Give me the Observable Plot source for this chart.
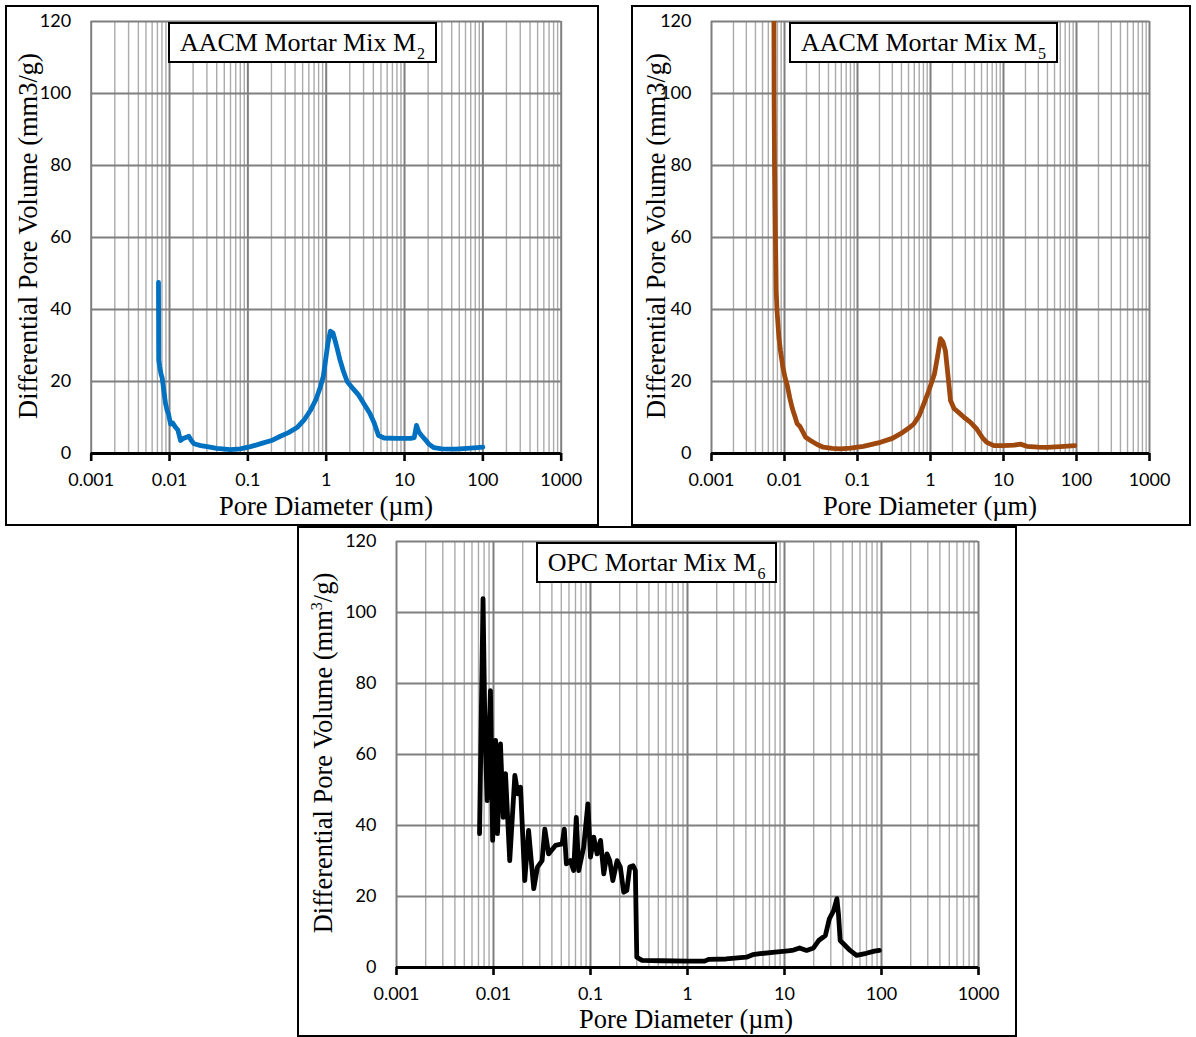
<!DOCTYPE html>
<html>
<head>
<meta charset="utf-8">
<script src="https://cdn.jsdelivr.net/npm/d3@7"></script>
<script src="https://cdn.jsdelivr.net/npm/@observablehq/plot@0.6"></script>
<style>
  html, body { margin: 0; padding: 0; background: #fff; }
  #page { position: relative; width: 1196px; height: 1037px; overflow: hidden; background: #fff; }
  .box { position: absolute; box-sizing: border-box; border: 2px solid #000; }
  .plot { position: absolute; }
  .title { position: absolute; box-sizing: border-box; border: 2.5px solid #000; background: #fff;
           font-family: "Liberation Serif", "Times New Roman", serif; font-size: 26px; color: #000;
           display: flex; align-items: center; justify-content: center; white-space: nowrap; }
  .title .sb { font-size: 16px; position: relative; top: 8px; margin-left: 1px; }
  .atitle { position: absolute; font-family: "Liberation Serif", "Times New Roman", serif; font-size: 26.5px;
            color: #000; white-space: nowrap; transform: translate(-50%, -50%); }
  .atitle.rot { transform: translate(-50%, -50%) rotate(-90deg); }
  .atitle .sp { font-size: 16px; position: relative; top: -10px; }
</style>
</head>
<body>
<div id="page"></div>
<script>
// ---- tick values / labels ----
const xTicks = [0.001, 0.01, 0.1, 1, 10, 100, 1000];
const xTickLabels = ["0.001", "0.01", "0.1", "1", "10", "100", "1000"];
const minorMultipliers = [2, 3, 4, 5, 6, 7, 8, 9];
const yTicks = [0, 20, 40, 60, 80, 100, 120];
const yTickLabels = ["0", "20", "40", "60", "80", "100", "120"];

// ---- AACM Mortar Mix M2 ----
const m2Diameter = [0.00723,0.00728,0.0075,0.0078,0.00806,0.0085,0.0089,0.0093,0.0097,0.0103,0.011,0.0119,0.0128,0.0138,0.015,0.0165,0.0176,0.019,0.0205,0.025,0.0302,0.04,0.06,0.08,0.108,0.15,0.2,0.26,0.33,0.43,0.53,0.63,0.74,0.84,0.92,0.98,1.05,1.13,1.22,1.35,1.5,1.65,1.85,2.2,2.6,3.1,3.6,4.1,4.65,5.5,8,12,13.3,14.2,15.2,16.5,18.5,20.5,23.8,30,45,70,100];
const m2Volume   = [47.5,26,24,22,21,17,13.8,12,11,8.2,8.5,7.3,6.5,3.6,4.2,4.5,4.8,3.6,2.7,2.2,1.9,1.4,1.1,1.3,1.9,2.8,3.6,4.8,5.8,7.3,9.5,12,15,18.4,21.5,25.8,30.5,34,33.5,30,26,23,20,18,16.2,13.5,11.2,8.5,5,4.3,4.2,4.2,4.4,7.8,6,5,3.8,2.6,1.6,1.3,1.2,1.5,1.75];

// ---- AACM Mortar Mix M5 ----
const m5Diameter = [0.00713,0.0072,0.0073,0.0075,0.0077,0.0079,0.0084,0.0088,0.0095,0.0102,0.0109,0.0118,0.0128,0.0138,0.0149,0.0163,0.0174,0.0195,0.0227,0.028,0.034,0.045,0.058,0.08,0.12,0.206,0.3,0.39,0.5,0.59,0.7,0.81,0.95,1.13,1.25,1.37,1.48,1.6,1.75,1.88,2.1,2.4,2.9,3.5,4.3,5.1,5.9,7.4,10,14,17,20.9,30,39,60,95];
const m5Volume   = [140,100,80,61,45,39.7,32,28.6,24,21,19,15.5,12.5,10.5,8.3,7.5,6.4,4.5,3.6,2.5,1.75,1.4,1.3,1.5,2.0,3.1,4.2,5.5,7,8.2,10.5,13.8,17.5,22,27,31.9,31,28.6,21,14.7,12.5,11.5,10,8.7,6.8,4.5,3.1,2.2,2.2,2.3,2.6,2.0,1.75,1.7,1.9,2.2];

// ---- OPC Mortar Mix M6 ----
const m6Diameter = [0.00718,0.0078,0.0081,0.0083,0.0086,0.0093,0.0098,0.0105,0.011,0.0118,0.0126,0.0133,0.0147,0.0166,0.0178,0.019,0.021,0.023,0.026,0.0284,0.0317,0.0338,0.037,0.0435,0.051,0.0537,0.0564,0.062,0.067,0.0714,0.0756,0.085,0.094,0.1,0.108,0.117,0.127,0.137,0.148,0.158,0.17,0.188,0.203,0.22,0.237,0.254,0.275,0.29,0.3,0.34,0.53,1.0,1.5,1.65,2.5,4.05,4.7,5.6,8,10.9,12.4,14.3,16.9,19.9,22.5,26.4,29,32.1,34.7,36,37.5,42.2,47.4,55.3,69.7,84.6,95];
const m6Volume   = [37.7,103.9,73.3,60.2,47,78,35.8,64,37.7,63,42.3,54.6,30.1,54.1,48.9,50.8,24.5,38.6,22.2,28.3,30.1,39,32,34.4,34.8,39,29.2,30.1,27.3,42.3,27.3,33.9,46.1,31.1,36.7,32,35.8,26.4,32,30.1,24.5,30.1,28.3,21.2,21.7,28.3,28.7,27.3,2.9,2.0,1.9,1.8,1.8,2.3,2.4,2.9,3.6,3.9,4.3,4.7,4.9,5.5,4.8,5.5,7.6,9.0,13.7,16,19.4,15.1,7.6,6.2,4.8,3.4,4.0,4.6,4.8];

const toRows = (xs, ys) => xs.map((d, i) => ({d, v: ys[i]}));

const page = document.getElementById("page");

function add(html, cls, style) {
  const el = document.createElement("div");
  el.className = cls;
  Object.assign(el.style, style);
  el.innerHTML = html;
  page.appendChild(el);
  return el;
}

function panel(cfg) {
  add("", "box", {left: cfg.box[0] + "px", top: cfg.box[1] + "px",
                  width: (cfg.box[2] - cfg.box[0]) + "px", height: (cfg.box[3] - cfg.box[1]) + "px"});
  const minor = xTicks.slice(0, -1).flatMap(t => minorMultipliers.map(m => t * m));
  const chart = Plot.plot({
    width: cfg.svg[2], height: cfg.svg[3],
    marginLeft: cfg.m[0], marginTop: cfg.m[1], marginRight: cfg.m[2], marginBottom: cfg.m[3],
    style: {background: "transparent", overflow: "visible", fontFamily: "Lato, sans-serif"},
    x: {type: "log", domain: [0.001, 1000], axis: null},
    y: {domain: [0, 120], axis: null},
    marks: [
      Plot.ruleX(minor, {stroke: "#ababab", strokeWidth: 1.4}),
      Plot.ruleX(xTicks, {stroke: "#7f7f7f", strokeWidth: 2}),
      Plot.ruleY(yTicks.slice(1), {stroke: "#7f7f7f", strokeWidth: 2}),
      Plot.line(toRows(cfg.xs, cfg.ys), {x: "d", y: "v", stroke: cfg.color, strokeWidth: 4.8,
        strokeLinejoin: "round", strokeLinecap: "round", clip: true}),
      Plot.ruleY([0], {stroke: "#000", strokeWidth: 3.2}),
      Plot.axisX(xTicks, {anchor: "bottom", tickSize: 8, tickPadding: 12, stroke: "#000", strokeWidth: 2.6,
        fontSize: 18, fill: "#000", label: null, tickFormat: d => xTickLabels[xTicks.indexOf(d)]}),
      Plot.axisY(yTicks, {anchor: "left", tickSize: 0, tickPadding: 20, fontSize: 18, fill: "#000",
        label: null, tickFormat: d => yTickLabels[yTicks.indexOf(d)]})
    ]
  });
  chart.classList.add("plot");
  chart.style.left = cfg.svg[0] + "px";
  chart.style.top = cfg.svg[1] + "px";
  page.appendChild(chart);
  add(cfg.title, "title", {left: cfg.tbox[0] + "px", top: cfg.tbox[1] + "px",
      width: (cfg.tbox[2] - cfg.tbox[0]) + "px", height: (cfg.tbox[3] - cfg.tbox[1]) + "px"});
  add(cfg.ytitle, "atitle rot", {left: cfg.yt[0] + "px", top: cfg.yt[1] + "px"});
  add("Pore Diameter (µm)", "atitle", {left: cfg.xt[0] + "px", top: cfg.xt[1] + "px"});
}

panel({
  box: [5, 5, 599, 526], svg: [7, 7, 590, 516], m: [83.7, 14, 36.3, 70],
  xs: m2Diameter, ys: m2Volume, color: "#0070C0",
  title: "<span>AACM Mortar Mix M<span class='sb'>2</span></span>", tbox: [168, 22, 437, 63],
  ytitle: "Differential Pore Volume (mm3/g)", yt: [28, 236], xt: [326, 506]
});
panel({
  box: [631, 5, 1191, 526], svg: [633, 7, 556, 516], m: [78, 14, 40, 70],
  xs: m5Diameter, ys: m5Volume, color: "#9E480E",
  title: "<span>AACM Mortar Mix M<span class='sb'>5</span></span>", tbox: [789, 22, 1058, 63],
  ytitle: "Differential Pore Volume (mm3/g)", yt: [656, 236], xt: [930, 506]
});
panel({
  box: [297, 526, 1017, 1037], svg: [299, 528, 716, 507], m: [97, 13, 37, 68],
  xs: m6Diameter, ys: m6Volume, color: "#000000",
  title: "<span>OPC Mortar Mix M<span class='sb'>6</span></span>", tbox: [536, 542, 777, 583],
  ytitle: "Differential Pore Volume (mm<span class='sp'>3</span>/g)", yt: [323, 753], xt: [686, 1019]
});
</script>
</body>
</html>
